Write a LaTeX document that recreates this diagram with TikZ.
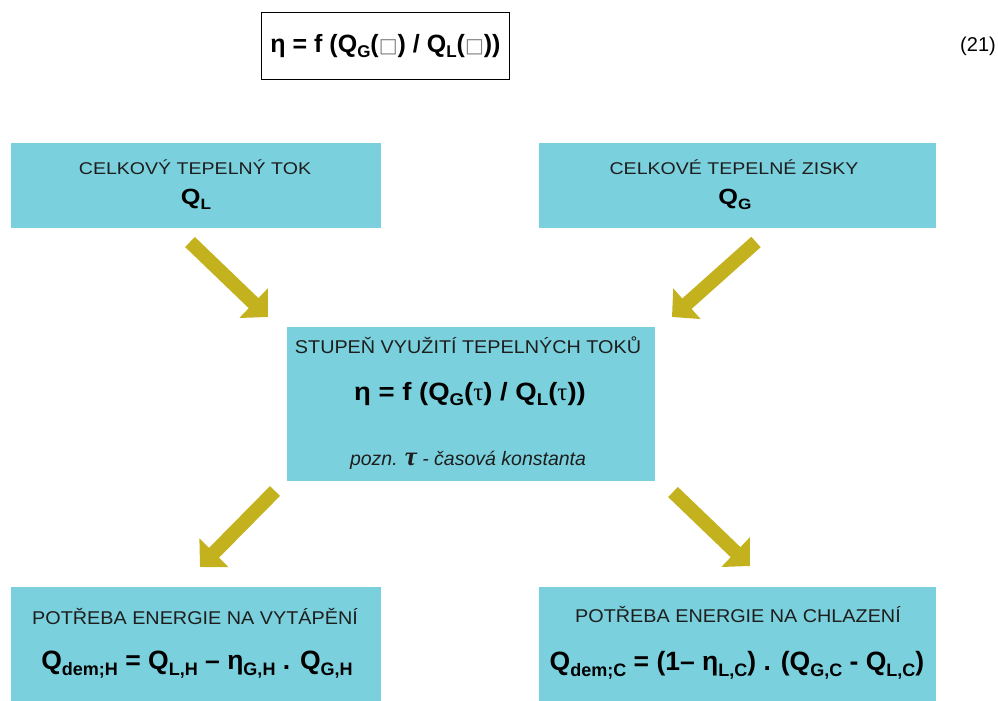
\documentclass[tikz,border=0pt]{standalone}
\usepackage{fontspec}
\setmainfont{Liberation Sans}
\newfontfamily\serifgr{Liberation Serif}
\newfontfamily\symfont{DejaVu Sans}
\newfontfamily\wideA[FakeStretch=1.15]{Liberation Sans}
\newfontfamily\wideB[FakeStretch=1.07]{Liberation Sans}
\newfontfamily\wideC[FakeStretch=1.1]{Liberation Sans}
\usetikzlibrary{arrows.meta}
\definecolor{boxcyan}{HTML}{7AD1DD}
\definecolor{arrowol}{HTML}{C3B21E}
\definecolor{txt}{HTML}{1E1E1E}
\newcommand\sbs[1]{\raisebox{-0.22em}{\scalebox{0.68}{#1}}}
\newcommand\missing{{\symfont\mdseries\color{gray}\scalebox{0.8}{□}}}
\begin{document}
\begin{tikzpicture}[x=1pt,y=-1pt,
  box/.style={fill=boxcyan, draw=none, inner sep=0pt},
  formula/.style={text=black, inner sep=0pt},
  bigarrow/.style={draw=arrowol, line width=14pt, line cap=butt,
    -{Triangle[length=20pt,width=40pt,fill=arrowol]}}]
\useasboundingbox (0,0) rectangle (998,701);
% equation (21)
\node[draw=black, line width=0.8pt, minimum width=248pt, minimum height=67pt, inner sep=0pt] (eqbox) at (385,45.5) {};
\node[formula, font=\bfseries\fontsize{25}{28}\selectfont] (eqtxt) at (385.5,46) {η = f (Q\sbs{G}(\missing) / Q\sbs{L}(\missing))};
\node[inner sep=0pt, font=\fontsize{20}{24}\selectfont, anchor=east] (eqnum) at (996,46) {(21)};
% boxes
\node[box, minimum width=370pt, minimum height=85pt] (tl) at (196,185.5) {};
\node[box, minimum width=397pt, minimum height=85pt] (tr) at (737.5,185.5) {};
\node[box, minimum width=368pt, minimum height=154pt] (mid) at (471,404) {};
\node[box, minimum width=370pt, minimum height=114pt] (bl) at (196,644) {};
\node[box, minimum width=397pt, minimum height=114pt] (br) at (737.5,644) {};
% texts
\node[inner sep=0pt, text=txt, font=\wideA\fontsize{17}{20}\selectfont] (tlt) at (195,167) {CELKOVÝ TEPELNÝ TOK};
\node[formula, font=\wideA\bfseries\fontsize{22}{26}\selectfont] (tlq) at (196,199) {Q\sbs{L}};
\node[inner sep=0pt, text=txt, font=\wideA\fontsize{17}{20}\selectfont] (trt) at (734,167) {CELKOVÉ TEPELNÉ ZISKY};
\node[formula, font=\wideA\bfseries\fontsize{22}{26}\selectfont] (trq) at (735,199) {Q\sbs{G}};
\node[inner sep=0pt, text=txt, font=\wideB\fontsize{18.5}{22}\selectfont] (midt) at (468,345) {STUPEŇ VYUŽITÍ TEPELNÝCH TOKŮ};
\node[formula, font=\wideC\bfseries\fontsize{25}{28}\selectfont] (midf) at (470,394) {η = f (Q\sbs{G}({\serifgr\mdseries τ}) / Q\sbs{L}({\serifgr\mdseries τ}))};
\node[inner sep=0pt, text=txt, font=\itshape\fontsize{19.5}{22}\selectfont] (midn) at (468,460) {pozn. {\serifgr\bfseries\fontsize{27}{27}\selectfont τ} - časová konstanta};
\node[inner sep=0pt, text=txt, font=\wideB\fontsize{18.5}{22}\selectfont] (blt) at (195,616) {POTŘEBA ENERGIE NA VYTÁPĚNÍ};
\node[formula, font=\bfseries\fontsize{26.5}{30}\selectfont] (blf) at (197,665) {Q\sbs{dem;H} = Q\sbs{L,H} – η\sbs{G,H} . Q\sbs{G,H}};
\node[inner sep=0pt, text=txt, font=\wideB\fontsize{18.5}{22}\selectfont] (brt) at (738,614) {POTŘEBA ENERGIE NA CHLAZENÍ};
\node[formula, font=\bfseries\fontsize{26.5}{30}\selectfont] (brf) at (737,665) {Q\sbs{dem;C} = (1– η\sbs{L,C}) . (Q\sbs{G,C} - Q\sbs{L,C})};
% arrows
\coordinate (a1s) at (190,242); \coordinate (a1e) at (268,317);
\coordinate (a2s) at (756,242); \coordinate (a2e) at (672,317);
\coordinate (a3s) at (275,491); \coordinate (a3e) at (200,567);
\coordinate (a4s) at (673,492); \coordinate (a4e) at (750,566);
\draw[bigarrow] (a1s) -- (a1e);
\draw[bigarrow] (a2s) -- (a2e);
\draw[bigarrow] (a3s) -- (a3e);
\draw[bigarrow] (a4s) -- (a4e);
\end{tikzpicture}
\end{document}
